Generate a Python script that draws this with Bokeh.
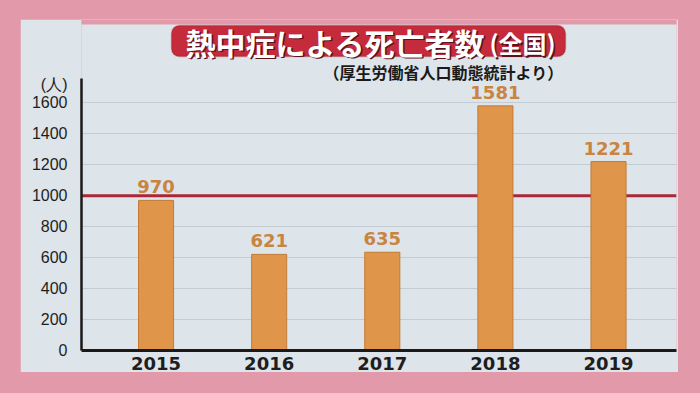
from bokeh.plotting import figure
from bokeh.layouts import column
from bokeh.models import Range1d, FixedTicker, Span, BoxAnnotation, Label, ColumnDataSource
from bokeh.core.properties import value
from bokeh.embed import file_html
from bokeh.resources import INLINE

# ---- data ----
years = [2015, 2016, 2017, 2018, 2019]
year_labels = ["2015", "2016", "2017", "2018", "2019"]
deaths = [970, 621, 635, 1581, 1221]
y_ticks = [0, 200, 400, 600, 800, 1000, 1200, 1400, 1600]
reference_level = 1000
unit_tick = 1720            # where the "(人)" unit sits above the 1600 tick
title_main = "熱中症による死亡者数"
title_sub = "(全国)"
source_note = "（厚生労働省人口動態統計より）"
unit_label = "(人)"

PINK = "#e29aaa"
PANEL = "#dde4ea"
BAR = "#e0964a"
BAR_EDGE = "#c27a36"
VAL = "#c88440"
RED = "#a8283a"
AXIS = "#1a1a1a"
SHADOW = "#5a121b"
JP = "Noto Sans CJK JP"

src = ColumnDataSource(dict(x=years, top=deaths, label=[str(d) for d in deaths]))

p = figure(width=658, height=353, output_backend="svg", toolbar_location=None, title=None,
           x_range=Range1d(2014.341, 2019.601), y_range=Range1d(0, 2139),
           min_border_left=61, min_border_right=2, min_border_top=0, min_border_bottom=21)
p.background_fill_color = PANEL
p.border_fill_color = PANEL
p.outline_line_color = None
p.margin = (19, 22, 21, 20)

def canvas_box(**kw):
    units = {k + "_units": "canvas" for k in ("left", "right", "top", "bottom")}
    return BoxAnnotation(**units, **kw)

# pink strip above the panel's top edge
p.add_layout(canvas_box(left=0, right=658, top=0, bottom=5, fill_color=PINK,
                        fill_alpha=1, line_color=None))

p.add_layout(Span(location=reference_level, dimension="width", line_color=RED,
                  line_width=3, level="underlay"))

p.vbar(x="x", top="top", width=0.31, bottom=0, source=src,
       fill_color=BAR, line_color=BAR_EDGE, line_width=1)

p.text(x="x", y="top", text="label", source=src, text_font=value("DejaVu Sans"),
       text_font_style="bold", text_font_size="18px", text_color=VAL,
       text_align="center", text_baseline="bottom", y_offset=-7)

# value axis
p.yaxis.ticker = FixedTicker(ticks=y_ticks + [unit_tick])
p.yaxis.major_label_overrides = {unit_tick: unit_label}
p.yaxis.bounds = (0, 1759)
p.yaxis.major_tick_line_color = None
p.yaxis.minor_tick_line_color = None
p.yaxis.major_label_text_font = "Liberation Sans"
p.yaxis.major_label_text_font_size = "16px"
p.yaxis.major_label_text_color = "#1e1e1e"
p.yaxis.major_label_standoff = 8
p.yaxis.axis_line_width = 2.5
p.yaxis.axis_line_color = AXIS

# year axis
p.xaxis.ticker = FixedTicker(ticks=years)
p.xaxis.major_label_overrides = {y: l for y, l in zip(years, year_labels)}
p.xaxis.major_tick_line_color = None
p.xaxis.minor_tick_line_color = None
p.xaxis.major_label_text_font = "DejaVu Sans"
p.xaxis.major_label_text_font_style = "bold"
p.xaxis.major_label_text_font_size = "18px"
p.xaxis.major_label_text_color = "#1e1e1e"
p.xaxis.major_label_standoff = 0
p.xaxis.axis_line_width = 3
p.xaxis.axis_line_color = AXIS

p.xgrid.grid_line_color = None
p.ygrid.ticker = FixedTicker(ticks=y_ticks[1:])
p.ygrid.grid_line_color = "#c3cbd3"
p.ygrid.grid_line_width = 1

# title block (canvas units: from the figure's top-left corner)
p.add_layout(canvas_box(left=151, right=545, top=6, bottom=37,
                        fill_color="#c62b3b", fill_alpha=1, line_color="#8a1a26",
                        line_width=1.5, border_radius=8))

def title_text(x, y, text, size):
    for dx, color in ((1.5, SHADOW), (0, "white")):
        p.add_layout(Label(x=x + dx, y=y + dx, x_units="canvas", y_units="canvas", text=text,
                           text_font=JP, text_font_size=size, text_font_style="bold",
                           text_color=color, text_align="left", text_baseline="middle"))

title_text(165, 22, title_main, "30px")
title_text(469, 23, title_sub, "24px")

p.add_layout(Label(x=543, y=52, x_units="canvas", y_units="canvas", text=source_note,
                   text_font=JP, text_font_size="16px", text_font_style="bold",
                   text_color=AXIS, text_align="right", text_baseline="middle"))

root = column(p, styles={"background-color": PINK})

open("out.html", "w").write(file_html(root, INLINE))
